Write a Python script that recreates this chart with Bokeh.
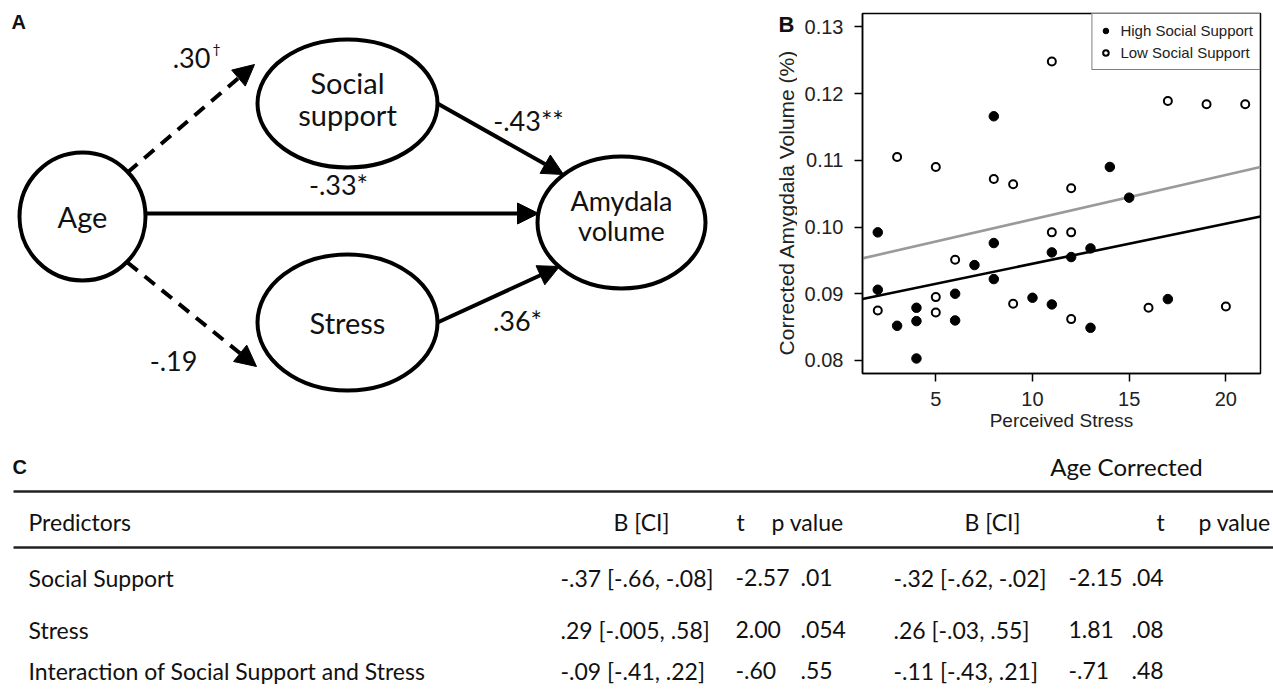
import math
from bokeh.plotting import figure
from bokeh.models import Range1d, Arrow, NormalHead, FixedTicker, PrintfTickFormatter, Legend, LegendItem
from bokeh.layouts import column, row
from bokeh.embed import file_html
from bokeh.resources import INLINE
from bokeh.core.properties import value

# ---------------- data ----------------
# Panel A: path model
node_lines = [["Age"], ["Social", "support"], ["Stress"], ["Amydala", "volume"]]
path_labels = [".30", "-.43**", "-.33*", "-.19", ".36*"]
path_marks = ["\u2020", "", "", "", ""]
path_dashed = [True, False, False, True, False]

# Panel B: scatter
high_x = [8, 14, 15, 2, 8, 11, 13, 12, 7, 8, 2, 6, 10, 11, 17, 4, 4, 6, 3, 13, 4]
high_y = [0.1166, 0.1090, 0.1044, 0.0992, 0.0976, 0.0962, 0.0968, 0.0955, 0.0943, 0.0922,
          0.0906, 0.0900, 0.0894, 0.0884, 0.0892, 0.0879, 0.0859, 0.0860, 0.0852, 0.0849, 0.0803]
low_x = [11, 17, 19, 21, 3, 5, 8, 9, 12, 11, 12, 6, 5, 9, 16, 20, 2, 5, 12]
low_y = [0.1248, 0.1189, 0.1184, 0.1184, 0.1105, 0.1090, 0.1072, 0.1064, 0.1058, 0.0992,
         0.0992, 0.0951, 0.0895, 0.0885, 0.0879, 0.0881, 0.0875, 0.0872, 0.0862]
group_names = ["High Social Support", "Low Social Support"]
fit_intercept = [0.0885, 0.0945]
fit_slope = [0.00060, 0.000665]
x_ticks = [5, 10, 15, 20]
y_ticks = [0.08, 0.09, 0.10, 0.11, 0.12, 0.13]
x_title = "Perceived Stress"
y_title = "Corrected Amygdala Volume (%)"

# Panel C: table
col_headers = ["Predictors", "B [CI]", "t", "p value", "B [CI]", "t", "p value"]
group_header = "Age Corrected"
predictors = ["Social Support", "Stress", "Interaction of Social Support and Stress"]
b_ci = ["-.37 [-.66, -.08]", ".29 [-.005, .58]", "-.09 [-.41, .22]"]
t_vals = ["-2.57", "2.00", "-.60"]
p_vals = [".01", ".054", ".55"]
b_ci_age = ["-.32 [-.62, -.02]", ".26 [-.03, .55]", "-.11 [-.43, .21]"]
t_age = ["-2.15", "1.81", "-.71"]
p_age = [".04", ".08", ".48"]

DIAG_FONT = value("Lato")
AX_FONT = "Liberation Sans"
INK = "#111"

ROW_H = 448
A_W = 797

# ---------------- Panel A (plus panel-B heading and y title) ----------------
pa = figure(width=A_W, height=ROW_H, x_range=Range1d(0, A_W), y_range=Range1d(ROW_H, 0),
            output_backend="svg", toolbar_location=None, min_border=0,
            x_axis_location=None, y_axis_location=None)
pa.grid.visible = False
pa.outline_line_color = None
pa.frame_align = False

node_cx = [82, 347, 347, 621]
node_cy = [216, 103, 322, 222]
node_w = [126, 180, 180, 168]
node_h = [128, 128, 136, 132]
text_cy = [216, 98, 322, 215]
text_gap = [0, 32, 0, 30]
text_size = ["29px", "29px", "29px", "27px"]

arrow_start = [(127, 172), (437, 103), (146, 213), (127, 262), (437, 322)]
arrow_end = [(254, 64), (563, 174), (538, 213), (256, 366), (559, 266)]
label_pos = [(191, 57), (528, 120), (338, 184), (173, 360), (517, 320)]

for (xs, ys), (xe, ye), dashed in zip(arrow_start, arrow_end, path_dashed):
    pa.add_layout(Arrow(end=NormalHead(size=21, fill_color="black", line_color="black", line_width=1),
                        x_start=xs, y_start=ys, x_end=xe, y_end=ye,
                        line_width=4, line_color="black",
                        line_dash="13 9" if dashed else "solid"))

pa.ellipse(x=node_cx, y=node_cy, width=node_w, height=node_h,
           fill_color="white", line_color="black", line_width=4)

for cx, cy, lines, gap, fs in zip(node_cx, text_cy, node_lines, text_gap, text_size):
    n = len(lines)
    pa.text(x=[cx] * n, y=[cy + (i - (n - 1) / 2) * gap for i in range(n)], text=lines,
            text_align="center", text_baseline="middle",
            text_font=DIAG_FONT, text_font_size=fs, text_color=INK)

pa.text(x=[p[0] for p in label_pos], y=[p[1] for p in label_pos], text=path_labels,
        text_align="center", text_baseline="middle", text_font=DIAG_FONT,
        text_font_size="27px", text_color=INK)
for (lx, ly), mk in zip(label_pos, path_marks):
    if mk:
        pa.text(x=[lx + 21], y=[ly - 9], text=[mk], text_align="left", text_baseline="middle",
                text_font=DIAG_FONT, text_font_size="14px", text_color=INK)

pa.text(x=[11], y=[21], text=["A"], text_align="left", text_baseline="middle",
        text_font=value(AX_FONT), text_font_style="bold", text_font_size="20px", text_color=INK)
pa.text(x=[786], y=[24], text=["B"], text_align="center", text_baseline="middle",
        text_font=value(AX_FONT), text_font_style="bold", text_font_size="22px", text_color=INK)
pa.text(x=[786], y=[202], text=[y_title], angle=math.pi / 2, text_align="center",
        text_baseline="middle", text_font=value(AX_FONT), text_font_size="21px", text_color="#222")

# ---------------- Panel B ----------------
xr = Range1d(1.21, 21.79)
yr = Range1d(0.07805, 0.1320)
pb = figure(width=1273 - A_W, height=ROW_H, x_range=xr, y_range=yr,
            output_backend="svg", toolbar_location=None,
            min_border_left=862 - A_W, min_border_right=13, min_border_top=13,
            min_border_bottom=ROW_H - 373)
pb.frame_align = False
pb.grid.visible = False
pb.outline_line_color = "black"
pb.outline_line_width = 1.5

for intercept, slope, col in zip(fit_intercept, fit_slope, ["black", "#9a9a9a"]):
    xs = [xr.start, xr.end]
    pb.line(x=xs, y=[intercept + slope * v for v in xs], line_color=col, line_width=2.6)

r_high = pb.scatter(x=high_x, y=high_y, size=9.5, fill_color="black", line_color="black")
r_low = pb.scatter(x=low_x, y=low_y, size=8, fill_color="white", line_color="black", line_width=2)

pb.xaxis.ticker = FixedTicker(ticks=x_ticks)
pb.yaxis.ticker = FixedTicker(ticks=y_ticks)
pb.yaxis.formatter = PrintfTickFormatter(format="%.2f")
pb.xaxis.axis_label = x_title
for ax in (pb.xaxis, pb.yaxis):
    ax.axis_line_width = 1.5
    ax.axis_line_color = "black"
    ax.major_tick_in = 0
    ax.major_tick_out = 8
    ax.major_tick_line_width = 1.5
    ax.major_tick_line_color = "black"
    ax.minor_tick_line_color = None
    ax.major_label_text_font = AX_FONT
    ax.major_label_text_font_size = "20px"
    ax.major_label_text_color = "#222"
    ax.axis_label_text_font = AX_FONT
    ax.axis_label_text_font_size = "19px"
    ax.axis_label_text_font_style = "normal"
    ax.axis_label_text_color = "#222"
pb.yaxis.major_label_standoff = 11
pb.xaxis.major_label_standoff = 10
pb.xaxis.axis_label_standoff = 1

legend = Legend(items=[LegendItem(label=group_names[0], renderers=[r_high]),
                       LegendItem(label=group_names[1], renderers=[r_low])],
                location="top_right", margin=0, padding=6, spacing=1,
                label_height=21, glyph_height=21, glyph_width=14, label_standoff=8,
                label_text_font=AX_FONT, label_text_font_size="15px", label_text_color="#222",
                border_line_color="black", border_line_width=1.5,
                background_fill_color="white", background_fill_alpha=1)
pb.add_layout(legend)

# ---------------- Panel C ----------------
C_H = 691 - ROW_H
pc = figure(width=1273, height=C_H, x_range=Range1d(0, 1273), y_range=Range1d(691, ROW_H),
            output_backend="svg", toolbar_location=None, min_border=0,
            x_axis_location=None, y_axis_location=None)
pc.frame_align = False
pc.grid.visible = False
pc.outline_line_color = None

pc.segment(x0=[13, 13], y0=[491, 547], x1=[1273, 1273], y1=[491, 547],
           line_color="#222", line_width=2.5)

TFONT = value("Lato")
TSIZE = "23px"
pc.text(x=[12], y=[466], text=["C"], text_align="left", text_baseline="middle",
        text_font=value(AX_FONT), text_font_style="bold", text_font_size="20px", text_color=INK)
pc.text(x=[1126], y=[466], text=[group_header], text_align="center", text_baseline="middle",
        text_font=TFONT, text_font_size="24px", text_color=INK)

hdr_x = [28, 641, 740, 771, 992, 1160, 1198]
hdr_align = ["left", "center", "center", "left", "center", "center", "left"]
for hx, ha, ht in zip(hdr_x, hdr_align, col_headers):
    pc.text(x=[hx], y=[521], text=[ht], text_align=ha, text_baseline="middle",
            text_font=TFONT, text_font_size=TSIZE, text_color=INK)

col_x = [28, 560, 735, 800, 893, 1068, 1131]
row_y = [577, 629, 670]
table_cols = [predictors, b_ci, t_vals, p_vals, b_ci_age, t_age, p_age]
for cx, vals in zip(col_x, table_cols):
    pc.text(x=[cx] * len(vals), y=row_y, text=vals, text_align="left", text_baseline="middle",
            text_font=TFONT, text_font_size=TSIZE, text_color=INK)

layout = column(row(pa, pb), pc)
open("out.html", "w").write(file_html(layout, INLINE))
